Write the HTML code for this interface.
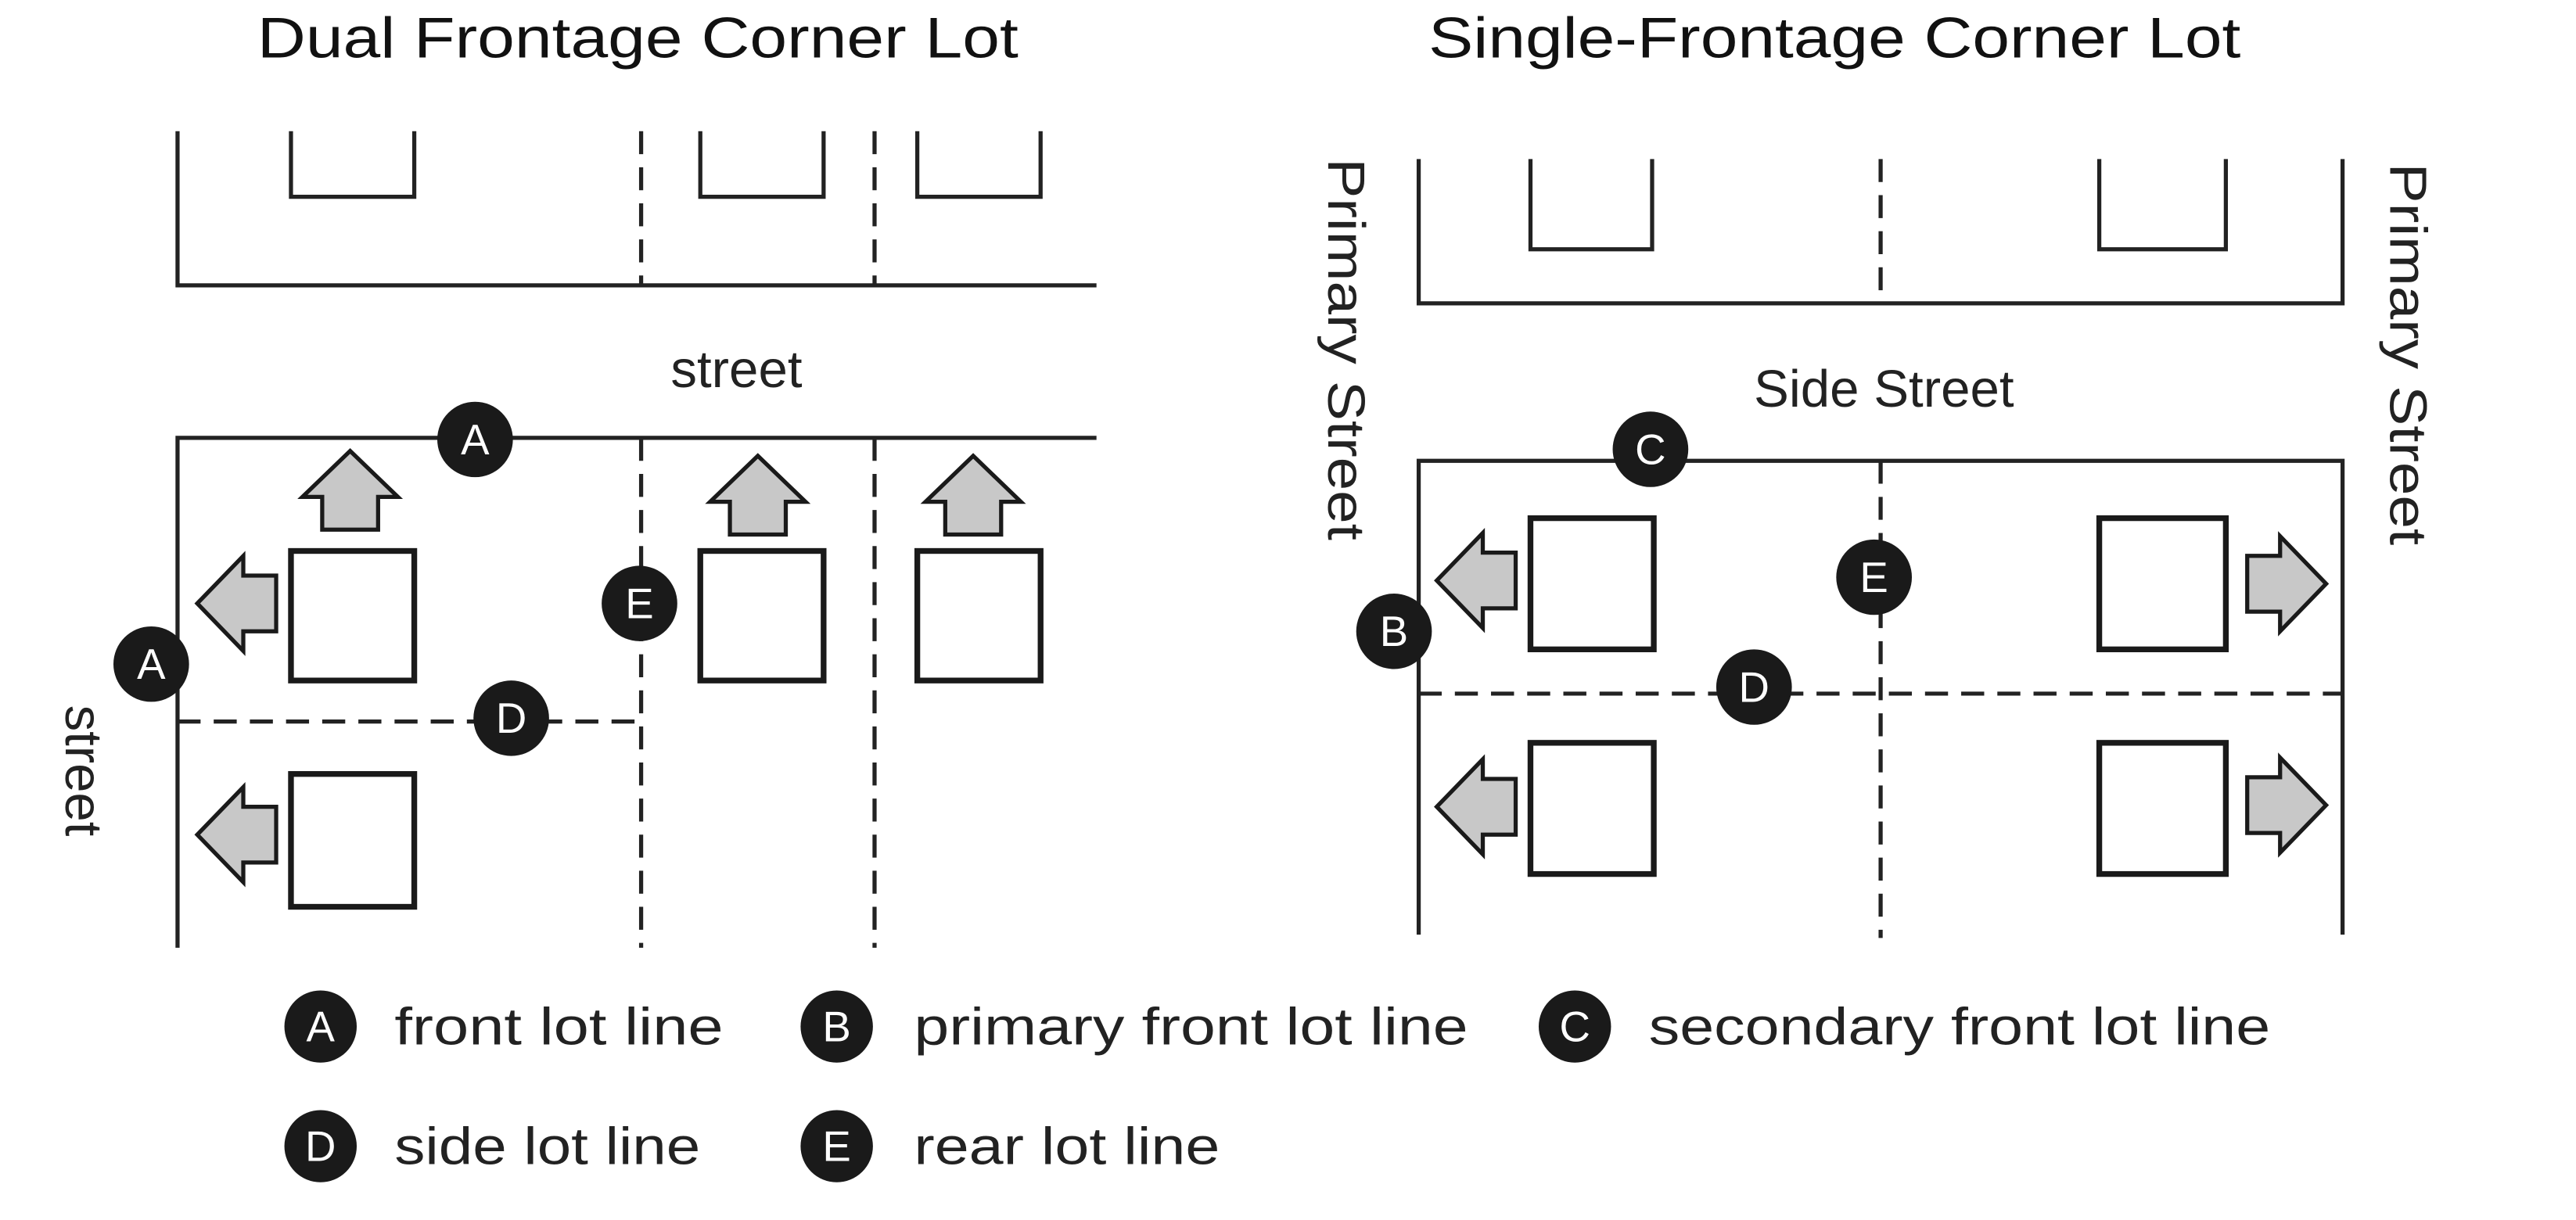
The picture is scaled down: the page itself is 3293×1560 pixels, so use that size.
<!DOCTYPE html>
<html><head><meta charset="utf-8"><style>html,body{margin:0;padding:0;background:#fff}svg{display:block}</style></head>
<body>
<svg width="3293" height="1560" viewBox="0 0 1567 744" preserveAspectRatio="none" xmlns="http://www.w3.org/2000/svg">
<defs>
<g id="up"><polygon points="0,-24 29,4 17,4 17,24 -17,24 -17,4 -29,4" fill="#c8c8c8" stroke="#1a1a1a" stroke-width="2.5" stroke-linejoin="miter"/></g>
<g id="left"><polygon points="-24,0 4,-29 4,-17 24,-17 24,17 4,17 4,29" fill="#c8c8c8" stroke="#1a1a1a" stroke-width="2.5"/></g>
<g id="right"><polygon points="24,0 -4,-29 -4,-17 -24,-17 -24,17 -4,17 -4,29" fill="#c8c8c8" stroke="#1a1a1a" stroke-width="2.5"/></g>
</defs>
<g font-family="'Liberation Sans', sans-serif" fill="#111">
<text x="388" y="35" font-size="35" text-anchor="middle" textLength="463" lengthAdjust="spacingAndGlyphs">Dual Frontage Corner Lot</text>
<text x="1116" y="35" font-size="35" text-anchor="middle" textLength="494" lengthAdjust="spacingAndGlyphs">Single-Frontage Corner Lot</text>
</g>
<g stroke="#222" stroke-width="2.5" fill="none">
<polyline points="108,80 108,174 667,174"/>
<line x1="390" y1="80" x2="390" y2="174" stroke-dasharray="14,8"/>
<line x1="532" y1="80" x2="532" y2="174" stroke-dasharray="14,8"/>
<polyline points="177,80 177,120 252,120 252,80"/>
<polyline points="426,80 426,120 501,120 501,80"/>
<polyline points="558,80 558,120 633,120 633,80"/>
<polyline points="108,578 108,267 667,267"/>
<line x1="390" y1="267" x2="390" y2="578" stroke-dasharray="14,8"/>
<line x1="532" y1="267" x2="532" y2="578" stroke-dasharray="14,8"/>
<line x1="108" y1="440" x2="390" y2="440" stroke-dasharray="14,8"/>
<polyline points="863,97 863,185 1425,185 1425,97"/>
<line x1="1144" y1="97" x2="1144" y2="185" stroke-dasharray="14,8"/>
<polyline points="931,97 931,152 1005,152 1005,97"/>
<polyline points="1277,97 1277,152 1354,152 1354,97"/>
<polyline points="863,570 863,281 1425,281 1425,570"/>
<line x1="1144" y1="281" x2="1144" y2="572" stroke-dasharray="14,8"/>
<line x1="863" y1="423" x2="1425" y2="423" stroke-dasharray="14,8"/>
</g>
<g stroke="#1a1a1a" stroke-width="3.5" fill="#fff">
<rect x="177" y="336" width="75" height="79"/>
<rect x="426" y="336" width="75" height="79"/>
<rect x="558" y="336" width="75" height="79"/>
<rect x="177" y="472" width="75" height="81"/>
<rect x="931" y="316" width="75" height="80"/>
<rect x="1277" y="316" width="77" height="80"/>
<rect x="931" y="453" width="75" height="80"/>
<rect x="1277" y="453" width="77" height="80"/>
</g>
<use href="#up" x="213" y="299"/>
<use href="#up" x="461" y="302"/>
<use href="#up" x="592" y="302"/>
<use href="#left" x="144" y="368"/>
<use href="#left" x="144" y="509"/>
<use href="#left" x="898" y="354"/>
<use href="#left" x="898" y="492"/>
<use href="#right" x="1391" y="356"/>
<use href="#right" x="1391" y="491"/>
<g font-family="'Liberation Sans', sans-serif" fill="#222" font-size="32">
<text x="448" y="236" text-anchor="middle">street</text>
<text x="1146" y="248" text-anchor="middle">Side Street</text>
<text transform="translate(40,470) rotate(90)" text-anchor="middle">street</text>
<text transform="translate(808,213) rotate(90)" text-anchor="middle" textLength="233" lengthAdjust="spacingAndGlyphs">Primary Street</text>
<text transform="translate(1454,216) rotate(90)" text-anchor="middle" textLength="233" lengthAdjust="spacingAndGlyphs">Primary Street</text>
</g>
<g fill="#1a1a1a">
<circle cx="289" cy="268" r="23"/><circle cx="92" cy="405" r="23"/><circle cx="389" cy="368" r="23"/><circle cx="311" cy="438" r="23"/>
<circle cx="1004" cy="274" r="23"/><circle cx="848" cy="385" r="23"/><circle cx="1140" cy="352" r="23"/><circle cx="1067" cy="419" r="23"/>
<circle cx="195" cy="626" r="22"/><circle cx="509" cy="626" r="22"/><circle cx="958" cy="626" r="22"/>
<circle cx="195" cy="699" r="22"/><circle cx="509" cy="699" r="22"/>
</g>
<g font-family="'Liberation Sans', sans-serif" fill="#fff" font-size="26" text-anchor="middle">
<text x="289" y="277">A</text><text x="92" y="414">A</text><text x="389" y="377">E</text><text x="311" y="447">D</text>
<text x="1004" y="283">C</text><text x="848" y="394">B</text><text x="1140" y="361">E</text><text x="1067" y="428">D</text>
<text x="195" y="635">A</text><text x="509" y="635">B</text><text x="958" y="635">C</text>
<text x="195" y="708">D</text><text x="509" y="708">E</text>
</g>
<g font-family="'Liberation Sans', sans-serif" fill="#222" font-size="32">
<text x="240" y="637" textLength="200" lengthAdjust="spacingAndGlyphs">front lot line</text>
<text x="556" y="637" textLength="337" lengthAdjust="spacingAndGlyphs">primary front lot line</text>
<text x="1003" y="637" textLength="378" lengthAdjust="spacingAndGlyphs">secondary front lot line</text>
<text x="240" y="710" textLength="186" lengthAdjust="spacingAndGlyphs">side lot line</text>
<text x="556" y="710" textLength="186" lengthAdjust="spacingAndGlyphs">rear lot line</text>
</g>
</svg>
</body></html>
